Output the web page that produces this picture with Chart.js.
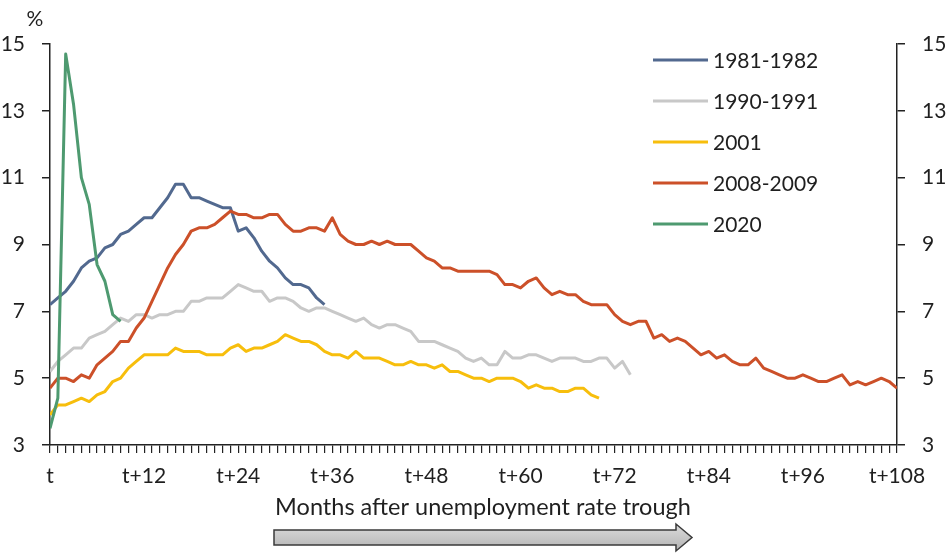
<!DOCTYPE html>
<html lang="en">

<head>
    <meta charset="UTF-8">
    <title>Unemployment after trough</title>
    <script src="https://cdn.jsdelivr.net/npm/chart.js"></script>
    <style>
        body { margin: 0; background: #fff; }
        #wrap { width: 946px; height: 553px; }
    </style>
</head>

<body>
    <div id="wrap">
        <canvas id="unempChart" width="946" height="553"></canvas>
    </div>

    <script>
        // monthly unemployment rate (%), month 0 = trough
        const labels = ['1981-1982', '1990-1991', '2001', '2008-2009', '2020'];
        const colors = ['#52698f', '#c8c8c8', '#f7be0c', '#cc5029', '#4e9a70'];

        const r1981 = [7.2, 7.4, 7.6, 7.9, 8.3, 8.5, 8.6, 8.9, 9.0, 9.3, 9.4, 9.6,
            9.8, 9.8, 10.1, 10.4, 10.8, 10.8, 10.4, 10.4, 10.3, 10.2, 10.1, 10.1,
            9.4, 9.5, 9.2, 8.8, 8.5, 8.3, 8.0, 7.8, 7.8, 7.7, 7.4, 7.2];

        const r1990 = [5.2, 5.5, 5.7, 5.9, 5.9, 6.2, 6.3, 6.4, 6.6, 6.8,
            6.7, 6.9, 6.9, 6.8, 6.9, 6.9, 7.0, 7.0, 7.3, 7.3,
            7.4, 7.4, 7.4, 7.6, 7.8, 7.7, 7.6, 7.6, 7.3, 7.4,
            7.4, 7.3, 7.1, 7.0, 7.1, 7.1, 7.0, 6.9, 6.8, 6.7,
            6.8, 6.6, 6.5, 6.6, 6.6, 6.5, 6.4, 6.1, 6.1, 6.1,
            6.0, 5.9, 5.8, 5.6, 5.5, 5.6, 5.4, 5.4, 5.8, 5.6,
            5.6, 5.7, 5.7, 5.6, 5.5, 5.6, 5.6, 5.6, 5.5, 5.5,
            5.6, 5.6, 5.3, 5.5, 5.1];

        const r2001 = [3.9,
            4.2, 4.2, 4.3, 4.4, 4.3, 4.5, 4.6, 4.9, 5.0, 5.3, 5.5, 5.7,
            5.7, 5.7, 5.7, 5.9, 5.8, 5.8, 5.8, 5.7, 5.7, 5.7, 5.9, 6.0,
            5.8, 5.9, 5.9, 6.0, 6.1, 6.3, 6.2, 6.1, 6.1, 6.0, 5.8, 5.7,
            5.7, 5.6, 5.8, 5.6, 5.6, 5.6, 5.5, 5.4, 5.4, 5.5, 5.4, 5.4,
            5.3, 5.4, 5.2, 5.2, 5.1, 5.0, 5.0, 4.9, 5.0, 5.0, 5.0, 4.9,
            4.7, 4.8, 4.7, 4.7, 4.6, 4.6, 4.7, 4.7, 4.5, 4.4];

        const r2008 = [4.7, 5.0,
            5.0, 4.9, 5.1, 5.0, 5.4, 5.6, 5.8, 6.1, 6.1, 6.5, 6.8, 7.3,
            7.8, 8.3, 8.7, 9.0, 9.4, 9.5, 9.5, 9.6, 9.8, 10.0, 9.9, 9.9,
            9.8, 9.8, 9.9, 9.9, 9.6, 9.4, 9.4, 9.5, 9.5, 9.4, 9.8, 9.3,
            9.1, 9.0, 9.0, 9.1, 9.0, 9.1, 9.0, 9.0, 9.0, 8.8, 8.6, 8.5,
            8.3, 8.3, 8.2, 8.2, 8.2, 8.2, 8.2, 8.1, 7.8, 7.8, 7.7, 7.9,
            8.0, 7.7, 7.5, 7.6, 7.5, 7.5, 7.3, 7.2, 7.2, 7.2, 6.9, 6.7,
            6.6, 6.7, 6.7, 6.2, 6.3, 6.1, 6.2, 6.1, 5.9, 5.7, 5.8, 5.6,
            5.7, 5.5, 5.4, 5.4, 5.6, 5.3, 5.2, 5.1, 5.0, 5.0, 5.1, 5.0,
            4.9, 4.9, 5.0, 5.1, 4.8, 4.9, 4.8, 4.9, 5.0, 4.9, 4.7];

        const r2020 = [3.5, 4.4, 14.7, 13.2, 11.0, 10.2, 8.4, 7.9, 6.9, 6.7];

        const series = [r1981, r1990, r2001, r2008, r2020];
        const monthMax = 108;
        const yTicks = [3, 5, 7, 9, 11, 13, 15];

        Chart.defaults.font.family = 'Lato';
        Chart.defaults.font.size = 21;
        Chart.defaults.color = '#1f1f1f';

        // legend, "%" label, axis caption and arrow
        const overlay = {
            id: 'overlay',
            afterDraw(chart) {
                const ctx = chart.ctx;
                ctx.save();
                ctx.font = '21px Lato';
                ctx.fillStyle = '#1f1f1f';
                ctx.textBaseline = 'middle';
                ctx.textAlign = 'center';
                ctx.fillText('%', 35, 19);

                ctx.textAlign = 'left';
                chart.data.datasets.forEach((ds, i) => {
                    const y = 60 + i * 41;
                    ctx.strokeStyle = ds.borderColor;
                    ctx.lineWidth = 3;
                    ctx.beginPath();
                    ctx.moveTo(653, y);
                    ctx.lineTo(708, y);
                    ctx.stroke();
                    ctx.fillText(ds.label, 713, y + 1);
                });

                ctx.textAlign = 'center';
                ctx.font = '23.5px Lato';
                ctx.fillText('Months after unemployment rate trough', 483, 507, 417);

                const g = ctx.createLinearGradient(0, 525, 0, 550);
                g.addColorStop(0, '#dadada');
                g.addColorStop(1, '#b4b4b4');
                ctx.beginPath();
                ctx.moveTo(274, 530);
                ctx.lineTo(676, 530);
                ctx.lineTo(676, 524);
                ctx.lineTo(692, 537.5);
                ctx.lineTo(676, 551);
                ctx.lineTo(676, 545);
                ctx.lineTo(274, 545);
                ctx.closePath();
                ctx.fillStyle = g;
                ctx.fill();
                ctx.strokeStyle = '#3a3a3a';
                ctx.lineWidth = 1.5;
                ctx.stroke();
                ctx.restore();
            }
        };

        const yAxis = (pos, w) => ({
            type: 'linear',
            position: pos,
            min: yTicks[0],
            max: yTicks[yTicks.length - 1],
            afterBuildTicks: s => { s.ticks = yTicks.map(v => ({ value: v })); },
            afterFit: s => { s.width = w; },
            border: { display: true, color: '#222', width: 1.5 },
            grid: { drawOnChartArea: false, drawTicks: true, tickLength: 8, tickColor: '#222', lineWidth: 1.5 },
            ticks: { padding: 17 }
        });

        new Chart(document.getElementById('unempChart'), {
            type: 'line',
            data: {
                datasets: series.map((vals, i) => ({
                    label: labels[i],
                    data: vals.map((v, m) => ({ x: m, y: v })),
                    borderColor: colors[i],
                    borderWidth: 3,
                    borderJoinStyle: 'round',
                    pointRadius: 0,
                    tension: 0,
                    fill: false,
                    order: series.length - i
                }))
            },
            options: {
                responsive: false,
                animation: false,
                layout: { padding: { top: 44, left: 0, right: 0, bottom: 0 } },
                plugins: { legend: { display: false }, tooltip: { enabled: false } },
                scales: {
                    x: {
                        type: 'linear',
                        min: 0,
                        max: monthMax,
                        afterFit: s => { s.height = 108; },
                        border: { display: true, color: '#222', width: 1.5 },
                        grid: { drawOnChartArea: false, drawTicks: true, tickLength: 8, tickColor: '#222', lineWidth: 1.2 },
                        ticks: {
                            stepSize: 1,
                            maxTicksLimit: 200,
                            autoSkip: false,
                            maxRotation: 0,
                            minRotation: 0,
                            padding: 11,
                            callback: v => v % 12 === 0 ? (v === 0 ? 't' : 't+' + v) : ''
                        }
                    },
                    y: yAxis('left', 50),
                    y2: yAxis('right', 49)
                }
            },
            plugins: [overlay]
        });
    </script>

</body>

</html>
